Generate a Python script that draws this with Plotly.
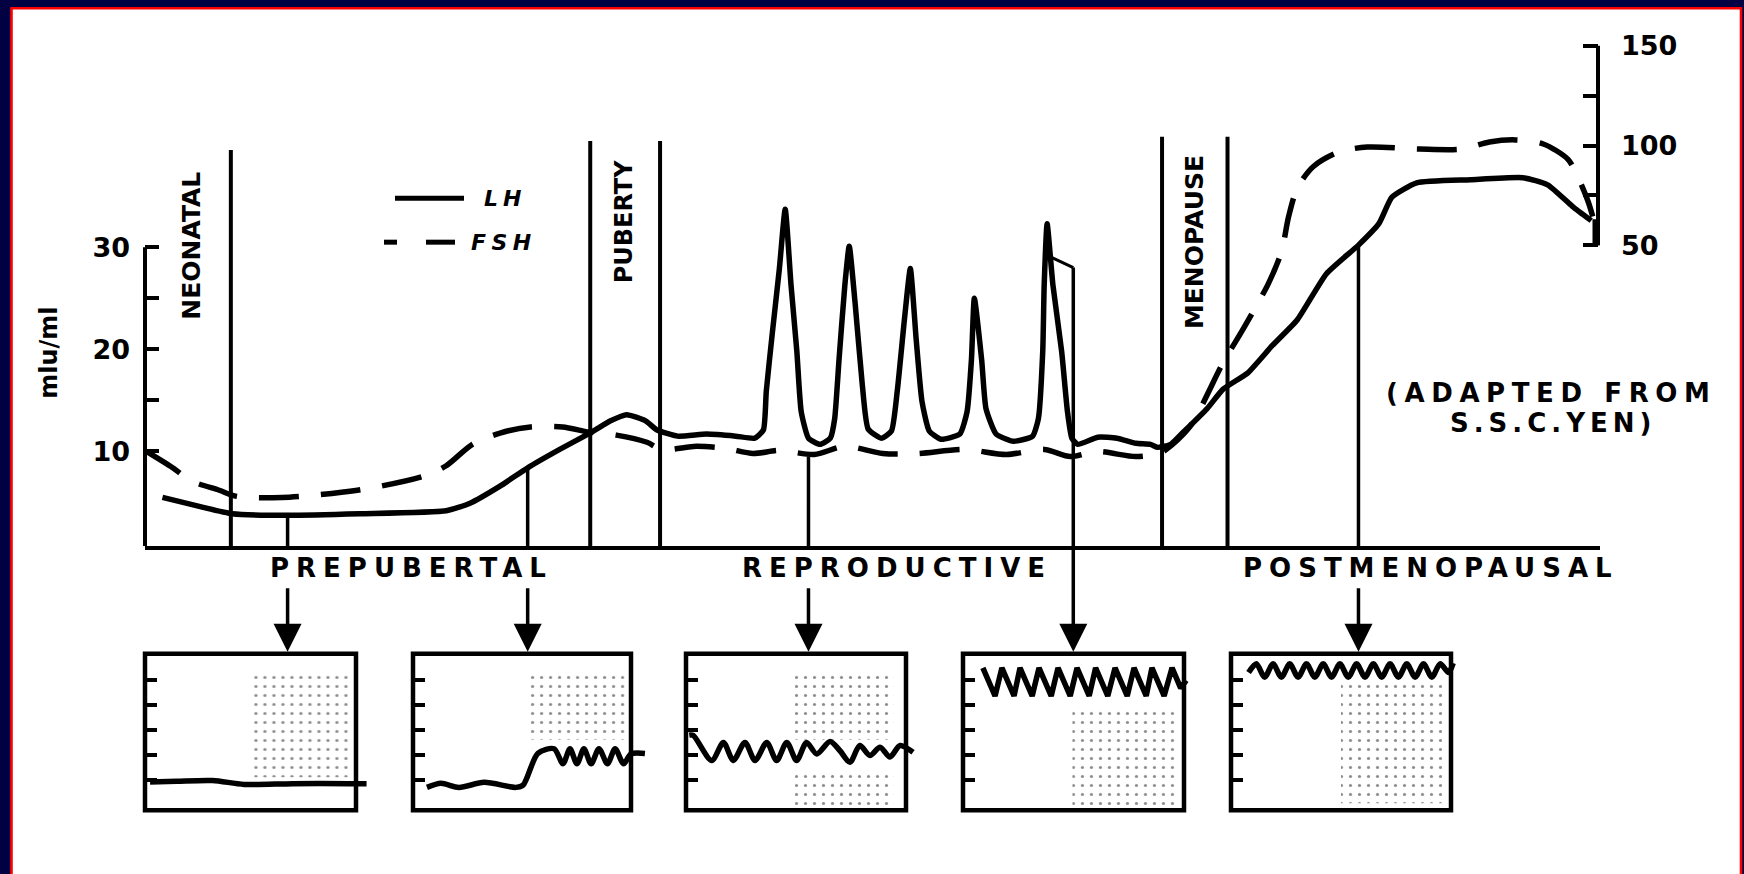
import plotly.graph_objects as go

W, H = 1744, 874

# ---------------- data ----------------
# main panel: x = relative life-span position (0..100), y = mIU/ml (left scale)
lh_age = [1.2, 3.8, 6.0, 9.7, 14.8, 20.7, 22.3, 24.4, 26.3, 28.5, 30.7, 32.0, 33.1, 34.4, 35.2, 36.6, 38.6, 40.6, 41.9,
          42.5, 42.7, 43.1, 43.6, 44.0, 44.4, 44.8, 45.1, 45.6, 46.4, 47.1,
          47.4, 47.7, 48.1, 48.4, 48.8, 49.3, 49.7, 50.6, 51.3,
          51.7, 52.2, 52.6, 53.0, 53.4, 53.9, 54.7, 56.0,
          56.5, 56.8, 57.0, 57.5, 57.8, 58.5, 59.7, 61.0,
          61.4, 61.7, 61.8, 62.0, 62.4, 63.0, 63.4, 63.7, 64.1,
          65.5, 66.8, 68.1, 69.1, 69.6, 70.5, 71.3, 73.0, 74.1, 75.8, 77.5, 79.2, 81.2, 83.4, 84.8, 85.7,
          87.4, 91.1, 94.7, 96.4, 98.1, 99.4]
lh_level = [5.5, 4.6, 3.9, 3.75, 3.9, 4.2, 4.9, 6.6, 8.4, 10.2, 11.9, 13.0, 13.6, 13.0, 12.1, 11.5, 11.7, 11.5, 11.3,
            12.1, 15.9, 21.4, 27.9, 33.7, 26.3, 19.8, 13.9, 11.3, 10.7, 11.3,
            13.2, 19.0, 26.3, 30.1, 24.6, 16.5, 12.2, 11.3, 12.0,
            15.9, 23.0, 27.9, 21.0, 14.9, 12.0, 11.2, 11.7,
            13.9, 19.0, 25.0, 19.0, 14.2, 11.7, 11.0, 11.5,
            13.2, 19.8, 26.3, 32.3, 26.3, 19.8, 13.9, 11.3, 10.7,
            11.4, 11.3, 10.8, 10.7, 10.4, 10.7, 11.8, 14.2, 16.1, 17.7, 20.4, 22.9, 27.4, 30.2, 32.3, 34.9,
            36.3, 36.6, 36.8, 36.1, 34.0, 32.6]

fsh_age = [0.1, 1.9, 3.2, 5.1, 6.3, 9.4, 14.6, 19.2, 20.7, 22.5, 24.4, 26.5, 28.7, 30.5, 32.4, 34.5, 35.5, 37.9,
           39.9, 41.8, 43.6, 46.0, 48.1, 50.7, 53.1, 56.3, 59.2, 61.8, 63.6, 65.4, 68.1, 69.7, 70.2, 71.8, 74.1,
           75.4, 76.4, 77.2, 78.1, 78.6, 79.2, 80.3, 82.0, 84.0, 87.6, 90.5, 92.4, 94.2, 96.1, 97.8, 98.5, 99.2, 99.5]
fsh_level = [10.0, 8.4, 7.1, 6.2, 5.6, 5.5, 6.2, 7.6, 8.6, 10.7, 11.8, 12.4, 12.4, 11.9, 11.6, 10.9, 10.2, 10.5,
             10.3, 9.8, 10.1, 9.7, 10.5, 9.8, 9.8, 10.2, 9.7, 10.2, 9.5, 10.0, 9.5, 9.8, 10.2, 12.4, 18.7,
             21.8, 24.3, 26.4, 29.5, 33.0, 35.8, 37.9, 39.3, 39.8, 39.6, 39.6, 40.3, 40.5, 40.1, 38.6, 36.8, 34.4, 33.0]

left_ticks = [10, 20, 30]
left_minor = [15, 25]
right_ticks = [50, 100, 150]
right_minor = [75, 125]

stage_names = ["NEONATAL", "PUBERTY", "MENOPAUSE"]
stage_label_age = [3.2, 32.9, 72.1]
stage_label_level = [30.1, 32.5, 30.5]
stage_line_age = [5.9, 30.6, 35.4, 69.9, 74.4]
stage_line_top = [39.5, 40.4, 40.4, 40.8, 40.8]

phase_names = ["PREPUBERTAL", "REPRODUCTIVE", "POSTMENOPAUSAL"]
phase_label_age = [18.3, 51.7, 88.4]

sample_age = [9.8, 26.3, 45.6, 63.8, 83.4]
sample_top = [3.75, 8.4, 9.5, 28.0, 30.2]
bracket_age = [62.3, 63.8]
bracket_level = [29.0, 28.0]

# insets: x = time (0..100 across the box), y = level (0..100 of the box)
inset1_t = [2.4, 15, 32, 47, 70, 97, 105]
inset1_v = [18, 18.5, 19, 16.5, 17, 17, 17]
inset2_t = [6.4, 12.8, 21.1, 32.6, 47.2, 50.5, 57.3, 64.7, 68.8, 72.0, 75.2, 78.4, 81.7, 85.3, 89.2, 92.7, 96.6, 100.0, 106.4]
inset2_v = [14.6, 17.2, 14.6, 17.8, 14.6, 16.0, 36.3, 39.3, 29.7, 39.3, 29.7, 39.3, 29.7, 39.3, 29.7, 39.3, 29.7, 36.0, 36.3]
inset3_t = [1.5, 3.3, 11.7, 17.0, 21.5, 26.8, 31.4, 36.7, 41.2, 45.8, 50.3, 54.8, 59.4, 65.5, 70.0, 74.5, 79.0, 83.6, 88.2, 92.7, 97.3, 103.2]
inset3_v = [48, 47.8, 31.8, 43.3, 31.8, 43.3, 31.8, 43.3, 31.8, 43.3, 31.8, 43.3, 36.0, 43.9, 38.0, 30.6, 41.4, 35.0, 40.3, 34.0, 41.4, 37.0]
inset4_t = [9, 14.5, 17.6, 23.1, 25.8, 31.3, 34.4, 39.9, 43, 48.5, 51.6, 57.1, 60, 65.5, 68.8, 74.3, 77.4, 82.9, 85.5, 91.0, 94.6, 98.5, 101]
inset4_v = [91, 73, 91, 73, 91, 73, 91, 73, 91, 73, 91, 73, 91, 73, 91, 73, 91, 73, 91, 73, 91, 78, 83]
inset5_t = [8, 11.5, 15.3, 19.1, 22.9, 26.7, 30.5, 34.3, 38.1, 41.9, 45.7, 49.5, 53.3, 57.1, 60.9, 64.7, 68.5, 72.3,
            76.1, 79.9, 83.7, 87.5, 91.3, 95.1, 98.9, 101]
inset5_v = [88, 93.6, 85, 93.6, 85, 93.6, 85, 93.6, 85, 93.6, 85, 93.6, 85, 93.6, 85, 93.6, 85, 93.6,
            85, 93.6, 85, 93.6, 85, 93.6, 88, 94]
inset_ticks = [19, 35, 51, 67, 83]

# ---------------- layout geometry (pixels) ----------------
def fx(px):
    return px / W

def fy(py):
    return 1 - py / H

X_LEFT, X_RIGHT = 145, 1600
Y_BASE, Y_TOP = 545, 30
L_PPU, L_ZERO = 10.25, 552.5       # left scale
R_PPU, R_100 = 2.0, 143.0          # right scale
R_AXIS_X = 1598
y_lo = (L_ZERO - Y_BASE) / L_PPU
y_hi = (L_ZERO - Y_TOP) / L_PPU
y2_lo = 100 - (Y_BASE - R_100) / R_PPU
y2_hi = 100 + (R_100 - Y_TOP) / R_PPU

BOX_TOP, BOX_BOT = 653, 810
boxes = [(145, 356), (413, 631), (686, 906), (963, 1184), (1231, 1451)]
stipples = [
    [(73, 47, 21, 68)],
    [(75, 46, 45, 44)],
    [(72, 45, 45, 44), (72, 45, 2, 22)],
    [(73, 47, 2, 62)],
    [(73, 46, 4.5, 78)],
]
insets = [(inset1_t, inset1_v, 'spline'), (inset2_t, inset2_v, 'spline'), (inset3_t, inset3_v, 'spline'),
          (inset4_t, inset4_v, 'linear'), (inset5_t, inset5_v, 'spline')]

FONT = "DejaVu Sans"
BLACK = "black"

def spaced(txt, sp, italic=False):
    inner = '<b>%s</b>' % txt
    if italic:
        inner = '<i>%s</i>' % inner
    return '<span style="letter-spacing:%spx">%s</span>' % (sp, inner)

def bfont(size, **kw):
    d = dict(family=FONT, size=size, color=BLACK, weight='bold')
    d.update(kw)
    return d

fig = go.Figure()

fig.add_trace(go.Scatter(x=lh_age, y=lh_level, mode='lines', name='LH',
                         line=dict(color=BLACK, width=5.5, shape='spline', smoothing=0.5),
                         xaxis='x', yaxis='y', hoverinfo='skip', showlegend=False))
fig.add_trace(go.Scatter(x=fsh_age, y=fsh_level, mode='lines', name='FSH',
                         line=dict(color=BLACK, width=5.5, dash='40px,22px', shape='spline', smoothing=0.8),
                         xaxis='x', yaxis='y', hoverinfo='skip', showlegend=False))
fig.add_trace(go.Scatter(x=[None], y=[None], xaxis='x', yaxis='y2', showlegend=False, hoverinfo='skip'))

layout = dict(
    width=W, height=H, margin=dict(l=0, r=0, t=0, b=0),
    paper_bgcolor='#000042', plot_bgcolor='rgba(0,0,0,0)',
    showlegend=False, hovermode=False,
    xaxis=dict(domain=[fx(X_LEFT), fx(X_RIGHT)], range=[0, 100], showgrid=False, zeroline=False,
               showline=True, linewidth=4, linecolor=BLACK, ticks='', showticklabels=False, anchor='y'),
    yaxis=dict(domain=[fy(Y_BASE), fy(Y_TOP)], range=[y_lo, y_hi], showgrid=False, zeroline=False,
               showline=False, ticks='inside', ticklen=14, tickwidth=4, tickcolor=BLACK,
               tickvals=left_ticks, ticktext=[str(v) for v in left_ticks],
               tickfont=bfont(27), ticklabelstandoff=14,
               minor=dict(tickvals=left_minor, ticks='inside', ticklen=14, tickwidth=4, tickcolor=BLACK),
               anchor='x'),
    yaxis2=dict(domain=[fy(Y_BASE), fy(Y_TOP)], range=[y2_lo, y2_hi], overlaying='y', side='right',
                anchor='free', position=fx(R_AXIS_X), showgrid=False, zeroline=False, showline=False,
                ticks='inside', ticklen=15, tickwidth=4, tickcolor=BLACK,
                tickvals=right_ticks, ticktext=[str(v) for v in right_ticks],
                tickfont=bfont(27), ticklabelstandoff=22,
                minor=dict(tickvals=right_minor, ticks='inside', ticklen=15, tickwidth=4, tickcolor=BLACK)),
)

shapes = [
    dict(type='rect', xref='paper', yref='paper', x0=fx(11.5), x1=fx(1741), y0=-0.05, y1=fy(5.2),
         line=dict(color='#ff0000', width=2.6), fillcolor='white', layer='below'),
    # axis lines
    dict(type='line', xref='paper', yref='y', x0=fx(X_LEFT), x1=fx(X_LEFT), y0=y_lo, y1=30,
         line=dict(color=BLACK, width=4)),
    dict(type='line', xref='paper', yref='y2', x0=fx(R_AXIS_X), x1=fx(R_AXIS_X), y0=50, y1=150,
         line=dict(color=BLACK, width=4)),
    dict(type='line', xref='paper', yref='y2', x0=fx(R_AXIS_X - 2), x1=fx(R_AXIS_X - 2), y0=50, y1=63,
         line=dict(color=BLACK, width=7)),
    dict(type='line', xref='x', yref='y', x0=bracket_age[0], x1=bracket_age[1],
         y0=bracket_level[0], y1=bracket_level[1], line=dict(color=BLACK, width=3)),
]
for a, top in zip(stage_line_age, stage_line_top):
    shapes.append(dict(type='line', xref='x', yref='y', x0=a, x1=a, y0=y_lo, y1=top,
                       line=dict(color=BLACK, width=4)))
for a, top in zip(sample_age, sample_top):
    shapes.append(dict(type='line', xref='x', yref='y', x0=a, x1=a, y0=y_lo, y1=top,
                       line=dict(color=BLACK, width=3.5)))

# legend samples
shapes.append(dict(type='line', xref='paper', yref='paper', x0=fx(395), x1=fx(464), y0=fy(196), y1=fy(196),
                   line=dict(color=BLACK, width=5)))
shapes.append(dict(type='line', xref='paper', yref='paper', x0=fx(384), x1=fx(397), y0=fy(240), y1=fy(240),
                   line=dict(color=BLACK, width=5)))
shapes.append(dict(type='line', xref='paper', yref='paper', x0=fx(426), x1=fx(455), y0=fy(240), y1=fy(240),
                   line=dict(color=BLACK, width=5)))

annotations = []
stage_sizes = [25, 24, 25]
for name, a, lv, sz in zip(stage_names, stage_label_age, stage_label_level, stage_sizes):
    annotations.append(dict(x=a, y=lv, xref='x', yref='y', text=name, textangle=-90, showarrow=False,
                            xanchor='center', yanchor='middle', font=bfont(sz)))
for name, a in zip(phase_names, phase_label_age):
    annotations.append(dict(x=a, y=fy(567), xref='x', yref='paper', text=spaced(name, 7), showarrow=False,
                            xanchor='center', yanchor='middle', font=bfont(26)))
for i, a in enumerate(sample_age):
    tail = Y_BASE if i == 3 else 586
    annotations.append(dict(x=a, y=fy(651), xref='x', yref='paper', text='', showarrow=True,
                            ax=0, ay=tail - 651, axref='pixel', ayref='pixel',
                            arrowhead=2, arrowsize=1.6, arrowwidth=3.5, arrowcolor=BLACK, standoff=0))
annotations += [
    dict(x=fx(49), y=fy(351), xref='paper', yref='paper', text='mlu/ml', textangle=-90, showarrow=False,
         xanchor='center', yanchor='middle', font=bfont(24)),
    dict(x=fx(482), y=fy(196), xref='paper', yref='paper', text=spaced('LH', 5, italic=True),
         showarrow=False, xanchor='left', yanchor='middle', font=bfont(22, style='italic')),
    dict(x=fx(469), y=fy(240), xref='paper', yref='paper', text=spaced('FSH', 5.5, italic=True),
         showarrow=False, xanchor='left', yanchor='middle', font=bfont(22, style='italic')),
    dict(x=fx(1551), y=fy(391), xref='paper', yref='paper', text=spaced('(ADAPTED FROM', 6.6), showarrow=False,
         xanchor='center', yanchor='middle', font=bfont(26)),
    dict(x=fx(1553), y=fy(421), xref='paper', yref='paper', text=spaced('S.S.C.YEN)', 5), showarrow=False,
         xanchor='center', yanchor='middle', font=bfont(26)),
]

# insets
for i, ((L, R), (t, v, shp), stip) in enumerate(zip(boxes, insets, stipples)):
    k = i + 3
    ppx = (R - L) / 100.0
    ppy = (BOX_BOT - BOX_TOP) / 100.0
    layout['xaxis%d' % k] = dict(domain=[fx(L - 5 * ppx), fx(L + 110 * ppx)], range=[-5, 110],
                                 visible=False, anchor='y%d' % k)
    layout['yaxis%d' % k] = dict(domain=[fy(BOX_BOT + 5 * ppy), fy(BOX_TOP - 5 * ppy)], range=[-5, 105],
                                 anchor='free', position=fx(L), ticks='inside', tickvals=inset_ticks,
                                 ticklen=11, tickwidth=4, tickcolor=BLACK, showticklabels=False,
                                 showgrid=False, zeroline=False, showline=False)
    fig.add_trace(go.Bar(x=[s[0] for s in stip], width=[s[1] for s in stip], base=[s[2] for s in stip],
                         y=[s[3] for s in stip], xaxis='x%d' % k, yaxis='y%d' % k, hoverinfo='skip',
                         marker=dict(color='white', line=dict(width=0),
                                     pattern=dict(shape='.', fgcolor='#1a1a1a', bgcolor='white',
                                                  size=9, solidity=0.1)),
                         showlegend=False))
    line = dict(color=BLACK, width=5.5, shape=shp)
    if shp == 'spline':
        line['smoothing'] = 0.8
    fig.add_trace(go.Scatter(x=t, y=v, mode='lines', line=line, xaxis='x%d' % k, yaxis='y%d' % k,
                             hoverinfo='skip', showlegend=False))
    shapes.append(dict(type='rect', xref='x%d' % k, yref='y%d' % k, x0=0, x1=100, y0=0, y1=100,
                       line=dict(color=BLACK, width=4.5)))

layout['shapes'] = shapes
layout['annotations'] = annotations
fig.update_layout(**layout)

fig.write_html("out.html", config={'displayModeBar': False},
               post_script="document.body.style.margin='0';document.body.style.overflow='hidden';"
                           "document.body.style.background='#000042';")
